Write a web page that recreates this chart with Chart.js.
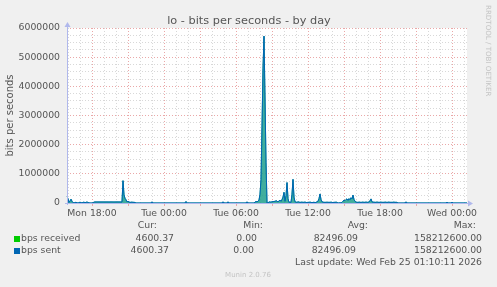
<!DOCTYPE html>
<html>
<head>
<meta charset="utf-8">
<script src="https://cdn.jsdelivr.net/npm/chart.js@4.4.1/dist/chart.umd.min.js"></script>
<style>
html, body { margin: 0; padding: 0; background: #f0f0f0; }
canvas { display: block; }
</style>
</head>
<body>
<canvas id="chart" width="497" height="287"></canvas>
<script>
// one sample every 5 minutes, first one Mon 23 Feb 2026 15:55
const startTime = new Date(2026, 1, 23, 15, 55);
const stepMinutes = 5;

// loopback traffic, thousands of bits per second
const receivedK = [
    240, 140, 20, 70, 130, 60, 10, 5, 10, 30, 5, 0, 10, 30, 10, 5, 20, 30, 10, 25,
    30, 20, 5, 0, 0, 0, 10, 30, 35, 35, 35, 35, 35, 35, 35, 35, 35, 35, 35, 35,
    35, 35, 34, 35, 36, 35, 35, 34, 35, 35, 36, 35, 35, 35, 34, 35, 765, 280, 160, 110,
    40, 60, 35, 20, 25, 30, 20, 25, 15, 0, 0, 0, 0, 0, 0, 0, 0, 0, 0, 0,
    0, 0, 0, 0, 0, 40, 0, 0, 0, 0, 0, 0, 0, 0, 0, 0, 0, 0, 0, 0,
    0, 0, 0, 0, 0, 0, 0, 0, 0, 0, 0, 0, 0, 0, 0, 0, 0, 0, 0, 50,
    0, 0, 0, 0, 0, 0, 0, 0, 0, 0, 0, 0, 0, 0, 0, 0, 0, 0, 0, 0,
    0, 0, 0, 0, 0, 0, 0, 0, 0, 0, 0, 0, 0, 0, 0, 0, 40, 0, 0, 0,
    0, 40, 0, 0, 0, 0, 0, 0, 0, 0, 0, 0, 0, 0, 0, 0, 0, 0, 0, 0,
    40, 0, 0, 0, 0, 0, 0, 0, 30, 50, 40, 60, 100, 300, 800, 2600, 4600, 5720, 3600, 1400,
    0, 10, 30, 40, 20, 50, 40, 60, 50, 80, 60, 40, 70, 100, 60, 120, 200, 365, 60, 250,
    700, 150, 20, 30, 20, 300, 810, 200, 40, 30, 20, 40, 30, 20, 25, 30, 20, 25, 30, 20,
    15, 25, 20, 30, 20, 15, 20, 25, 15, 20, 40, 60, 150, 310, 120, 40, 30, 20, 25, 20,
    30, 20, 25, 20, 30, 20, 15, 25, 20, 30, 20, 0, 0, 10, 0, 20, 60, 100, 80, 120,
    140, 90, 150, 110, 180, 140, 270, 120, 60, 30, 25, 20, 30, 25, 20, 25, 30, 20, 25, 30,
    25, 20, 40, 70, 140, 40, 25, 30, 20, 25, 30, 25, 20, 25, 30, 20, 25, 20, 30, 25,
    20, 25, 30, 20, 25, 20, 25, 30, 20, 25, 20, 0, 0, 0, 0, 0, 0, 0, 0, 40,
    0, 0, 0, 0, 0, 0, 0, 0, 0, 0, 0, 0, 0, 0, 0, 0, 0, 0, 0, 0,
    0, 0, 0, 0, 0, 0, 0, 0, 0, 0, 0, 0, 0, 0, 0, 0, 0, 0, 0, 0,
    30, 0, 0, 0, 0, 30, 0, 0, 0, 0, 0, 0, 0, 0, 0, 0, 0, 0, 0, 0,
    0
];
// on lo every bit sent is also received, the two curves are the same
const sentK = receivedK.slice();

const tickLabels = ['Mon 18:00', 'Tue 00:00', 'Tue 06:00', 'Tue 12:00', 'Tue 18:00', 'Wed 00:00'];

const seriesNames = ['bps received', 'bps sent'];
const curValues = ['4600.37', '4600.37'];
const minValues = ['0.00', '0.00'];
const avgValues = ['82496.09', '82496.09'];
const maxValues = ['158212600.00', '158212600.00'];
const lastUpdate = 'Last update: Wed Feb 25 01:10:11 2026';

const colors = {
    received: '#00cc00',
    receivedLine: '#14a58a',
    receivedFill: 'rgba(30, 160, 140, 0.85)',
    sent: '#0066b3',
    text: '#555555',
    faint: '#c4c4c4',
    axis: '#b0b8ec',
    gridMajor: '#eaa8a8',
    gridMinor: '#d8d8d8'
};
const FONT = '"DejaVu Sans", sans-serif';

const dayNames = ['Sun', 'Mon', 'Tue', 'Wed', 'Thu', 'Fri', 'Sat'];
const pad = n => String(n).padStart(2, '0');
const labels = receivedK.map((_, i) => {
    const d = new Date(startTime.getTime() + i * stepMinutes * 60000);
    return dayNames[d.getDay()] + ' ' + pad(d.getHours()) + ':' + pad(d.getMinutes());
});

function hourOf(label) {
    const [h, m] = label.split(' ')[1].split(':').map(Number);
    return m === 0 ? h : -1;
}

function xGridColor(ctx) {
    const label = labels[ctx.index];
    if (!label) return 'transparent';
    const h = hourOf(label);
    if (h < 0) return 'transparent';
    return h % 3 === 0 ? colors.gridMajor : colors.gridMinor;
}

function xTickColor(ctx) {
    const label = labels[ctx.index];
    if (!label) return 'transparent';
    const h = hourOf(label);
    return h >= 0 && h % 3 === 0 ? colors.gridMajor : 'transparent';
}

// white canvas under the plot
const plotBackground = {
    id: 'plotBackground',
    beforeDraw(chart) {
        const { ctx, chartArea: a } = chart;
        ctx.save();
        ctx.fillStyle = '#ffffff';
        ctx.fillRect(a.left, a.top, a.right - a.left, a.bottom - a.top);
        ctx.restore();
    }
};

// munin style frame, title, legend table and footer
const muninDecor = {
    id: 'muninDecor',
    afterDatasetsDraw(chart) {
        const { ctx, chartArea: a } = chart;
        const yb = a.bottom + 0.5;
        const xl = a.left + 0.5;
        ctx.save();
        ctx.strokeStyle = colors.axis;
        ctx.fillStyle = colors.axis;
        ctx.lineWidth = 1;
        ctx.beginPath();
        ctx.moveTo(a.left - 2, yb);
        ctx.lineTo(a.right + 2, yb);
        ctx.moveTo(xl, a.bottom + 2);
        ctx.lineTo(xl, a.top - 2);
        ctx.stroke();
        // arrow heads
        ctx.beginPath();
        ctx.moveTo(a.right + 6, yb);
        ctx.lineTo(a.right + 1, yb - 3);
        ctx.lineTo(a.right + 1, yb + 3);
        ctx.closePath();
        ctx.fill();
        ctx.beginPath();
        ctx.moveTo(xl, a.top - 6);
        ctx.lineTo(xl - 3, a.top - 1);
        ctx.lineTo(xl + 3, a.top - 1);
        ctx.closePath();
        ctx.fill();
        ctx.restore();
    },
    afterDraw(chart) {
        const { ctx } = chart;
        ctx.save();
        ctx.fillStyle = colors.text;
        ctx.textBaseline = 'middle';

        ctx.font = '11.3px ' + FONT;
        ctx.textAlign = 'center';
        ctx.fillText('lo - bits per seconds - by day', 249, 21);

        ctx.font = '9.3px ' + FONT;
        ctx.textAlign = 'right';
        const heads = ['Cur:', 'Min:', 'Avg:', 'Max:'];
        const headX = [157, 263, 368, 476];
        heads.forEach((h, i) => ctx.fillText(h, headX[i], 226));

        const rowY = [239, 251];
        const colX = [[174, 257, 358, 482], [169, 254, 356, 482]];
        const swatch = [colors.received, colors.sent];
        seriesNames.forEach((name, r) => {
            ctx.fillStyle = swatch[r];
            ctx.fillRect(14, rowY[r] - 3, 6, 6);
            ctx.fillStyle = colors.text;
            ctx.textAlign = 'left';
            ctx.fillText(name, 21, rowY[r]);
            ctx.textAlign = 'right';
            const vals = [curValues[r], minValues[r], avgValues[r], maxValues[r]];
            vals.forEach((v, c) => ctx.fillText(v, colX[r][c], rowY[r]));
        });
        ctx.fillText(lastUpdate, 482, 263);

        ctx.fillStyle = colors.faint;
        ctx.font = '7px ' + FONT;
        ctx.textAlign = 'center';
        ctx.fillText('Munin 2.0.76', 248, 275);

        ctx.translate(488, 5);
        ctx.rotate(Math.PI / 2);
        ctx.textAlign = 'left';
        ctx.font = '7.1px ' + FONT;
        ctx.fillText('RRDTOOL / TOBI OETIKER', 0, 0);
        ctx.restore();
    }
};

new Chart(document.getElementById('chart'), {
    type: 'line',
    data: {
        labels: labels,
        datasets: [{
            label: seriesNames[0],
            data: receivedK.map(v => v * 1000),
            borderColor: colors.receivedLine,
            backgroundColor: colors.receivedFill,
            borderWidth: 1,
            fill: 'origin',
            order: 1
        }, {
            label: seriesNames[1],
            data: sentK.map(v => v * 1000),
            borderColor: colors.sent,
            borderWidth: 1,
            fill: false,
            order: 0
        }]
    },
    options: {
        responsive: false,
        devicePixelRatio: 1,
        animation: false,
        layout: {
            padding: { top: 28, right: 30, left: 0, bottom: 0 }
        },
        elements: {
            point: { radius: 0 },
            line: { tension: 0 }
        },
        plugins: {
            legend: { display: false },
            title: { display: false },
            tooltip: { enabled: false }
        },
        scales: {
            x: {
                type: 'category',
                afterFit(scale) { scale.height = 84; },
                border: { display: false, dash: [1, 2] },
                grid: {
                    color: xGridColor,
                    tickColor: xTickColor,
                    tickLength: 3,
                    lineWidth: 1
                },
                ticks: {
                    autoSkip: false,
                    maxRotation: 0,
                    padding: 2,
                    color: colors.text,
                    font: { family: FONT, size: 9.3 },
                    callback(value) {
                        const label = this.getLabelForValue(value);
                        return tickLabels.includes(label) ? label : '';
                    }
                }
            },
            y: {
                min: 0,
                max: 6000000,
                afterFit(scale) { scale.width = 67; },
                border: { display: false, dash: [1, 2] },
                grid: {
                    drawTicks: false,
                    color: ctx => ctx.tick && ctx.tick.value % 1000000 === 0 ? colors.gridMajor : colors.gridMinor
                },
                title: {
                    display: true,
                    text: 'bits per seconds',
                    color: colors.text,
                    font: { family: FONT, size: 10 },
                    padding: { top: 4, bottom: 0 }
                },
                ticks: {
                    stepSize: 250000,
                    maxTicksLimit: 100,
                    autoSkip: false,
                    padding: 7,
                    color: colors.text,
                    font: { family: FONT, size: 9.3 },
                    callback: v => v % 1000000 === 0 ? String(v) : ''
                }
            }
        }
    },
    plugins: [plotBackground, muninDecor]
});
</script>
</body>
</html>
